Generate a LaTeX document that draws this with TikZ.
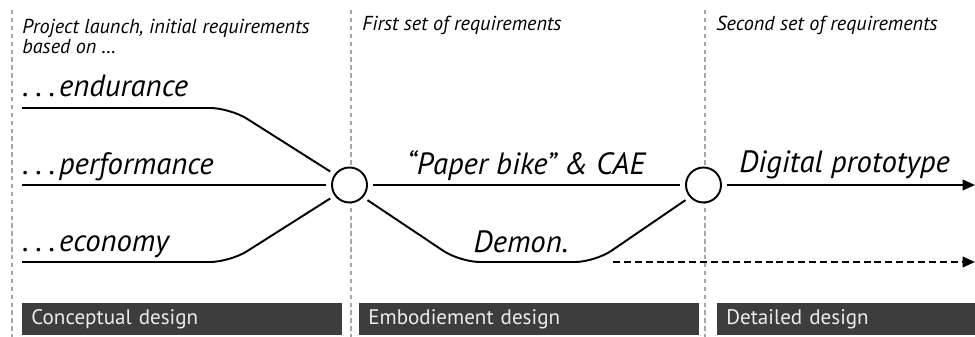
\documentclass[tikz,border=0pt]{standalone}
\usepackage{fontspec}
\setmainfont{PT Sans}
\usetikzlibrary{arrows.meta, positioning, calc}

\newcommand{\reqdots}{.\hspace{0.22em}.\hspace{0.22em}.\hspace{0.12em}}

\begin{document}
\begin{tikzpicture}[
    x=0.02cm, y=-0.02cm,
    mile/.style={circle, draw=black, line width=1.1pt, fill=white, minimum size=0.7cm, inner sep=0pt, outer sep=0.12cm},
    flow/.style={line width=1.1pt, black, rounded corners=0.4cm},
    arrow/.style={-{Triangle[length=7pt, width=6pt]}, line width=1.1pt, black},
    sepline/.style={black!35, line width=0.9pt, dash pattern=on 2.5pt off 2pt},
    phase/.style={rectangle, fill=black!76, text=white!92!black, minimum height=0.56cm, inner xsep=0.18cm, anchor=west, align=left, font=\fontsize{12}{14}\selectfont},
    labelstyle/.style={font=\fontsize{17.5}{20}\selectfont\itshape, inner sep=0pt},
    headstyle/.style={font=\fontsize{11.5}{10}\selectfont\itshape, align=left, inner sep=0pt}
]
\useasboundingbox (0,0) rectangle (975,337);

% === Phase separators ===
\foreach \x in {12,351,705}
    \draw[sepline] (\x,10) -- (\x,337);

% === Milestones ===
\node[mile] (c1) at (349.5,185) {};
\node[mile] (c2) at (703.5,185) {};

% === Phase headers ===
\node[headstyle, anchor=north west] (head1) at (22,19) {Project launch, initial requirements\\based on …};
\node[headstyle, anchor=base west] (head2) at (362,31) {First set of requirements};
\node[headstyle, anchor=base west] (head3) at (716,31) {Second set of requirements};

% === Requirement lines ===
\node[labelstyle, anchor=base west] (endu) at (22,97) {\reqdots endurance};
\node[labelstyle, anchor=base west] (perf) at (22,175) {\reqdots performance};
\node[labelstyle, anchor=base west] (econ) at (22,252) {\reqdots economy};

\coordinate (e0) at (22,108);
\coordinate (e1) at (230,108);
\coordinate (p0) at (22,185);
\coordinate (k0) at (22,262);
\coordinate (k1) at (230,262);

\draw[flow] (e0) -- (e1) -- (c1.145);
\draw[flow] (p0) -- (c1);
\draw[flow] (k0) -- (k1) -- (c1.215);

% === Embodiement ===
\node[labelstyle, anchor=base] (paper) at (526,175) {“Paper bike” \& CAE};
\node[labelstyle, anchor=base] (demo) at (521,253) {Demon.};

\coordinate (d1) at (460,262);
\coordinate (d2) at (595,262);

\draw[flow] (c1) -- (c2);
\draw[flow] (c1.-40) -- (d1) -- (d2) -- (c2.-140);

% === Detailed ===
\node[labelstyle, anchor=base west] (digi) at (739,173) {Digital prototype};

\coordinate (out1) at (975,185);
\coordinate (dm0) at (613,262);
\coordinate (dm1) at (975,262);

\draw[arrow] (c2) -- (out1);
\draw[arrow, dash pattern=on 4pt off 2.2pt] (dm0) -- (dm1);

% === Phase bars ===
\node[phase, text width=6.04cm] (bar1) at (22,319) {Conceptual design};
\node[phase, text width=6.44cm] (bar2) at (359,319) {Embodiement design};
\node[phase, text width=4.80cm] (bar3) at (717,319) {Detailed design};

\end{tikzpicture}
\end{document}
